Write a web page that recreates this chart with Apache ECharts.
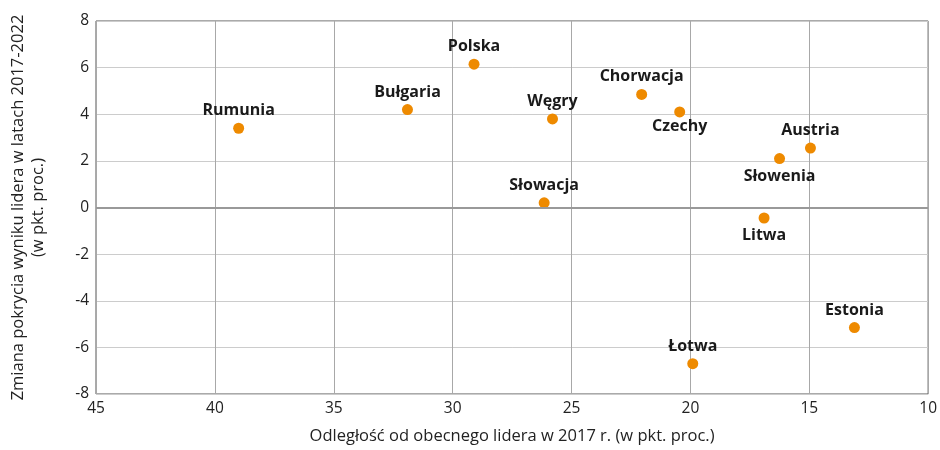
<!DOCTYPE html>
<html>
<head>
<meta charset="utf-8">
<script src="https://cdn.jsdelivr.net/npm/echarts@6/dist/echarts.min.js"></script>
<style>
  html, body { margin: 0; padding: 0; background: #fff; }
  #chart { width: 940px; height: 450px; }
</style>
</head>
<body>
<div id="chart"></div>
<script>
// dane
const countries = ['Rumunia', 'Bułgaria', 'Polska', 'Węgry', 'Słowacja', 'Chorwacja',
  'Czechy', 'Austria', 'Słowenia', 'Litwa', 'Łotwa', 'Estonia']
const distance2017 = [39.0, 31.9, 29.1, 25.8, 26.15, 22.05, 20.45, 14.95, 16.25, 16.9, 19.9, 13.1]
const coverageChange = [3.4, 4.2, 6.15, 3.8, 0.2, 4.85, 4.1, 2.55, 2.1, -0.45, -6.7, -5.15]
const xTicks = { min: 10, max: 45, step: 5 }
const yTicks = { min: -8, max: 8, step: 2 }

const xName = 'Odległość od obecnego lidera w 2017 r. (w pkt. proc.)'
const yName = 'Zmiana pokrycia wyniku lidera w latach 2017-2022\n(w pkt. proc.)'

// etykiety pod punktem
const labelBelow = ['Czechy', 'Słowenia', 'Litwa']

const font = '"Open Sans", sans-serif'

const chart = echarts.init(document.getElementById('chart'))

const points = countries.map((name, i) => ({
  name: name,
  value: [distance2017[i], coverageChange[i]],
  label: {
    position: labelBelow.includes(name) ? 'bottom' : 'top',
    distance: name === 'Czechy' ? 1 : 4
  }
}))

const option = {
  animation: false,
  grid: {
    left: 95,
    right: 9,
    top: 21,
    bottom: 53,
    show: true,
    borderColor: '#555',
    borderWidth: 1
  },
  xAxis: {
    type: 'value',
    inverse: true,
    min: xTicks.min,
    max: xTicks.max,
    interval: xTicks.step,
    name: xName,
    nameLocation: 'middle',
    nameGap: 34,
    nameTextStyle: { fontFamily: font, fontSize: 16.5, color: '#222' },
    axisLine: { show: false },
    axisTick: { show: false },
    axisLabel: { fontFamily: font, fontSize: 15.5, color: '#222', margin: 7 },
    splitLine: { show: true, lineStyle: { color: '#a8a8a8', width: 1 } }
  },
  yAxis: {
    type: 'value',
    min: yTicks.min,
    max: yTicks.max,
    interval: yTicks.step,
    name: yName,
    nameLocation: 'middle',
    nameGap: 48,
    nameRotate: 90,
    nameTextStyle: { fontFamily: font, fontSize: 16.5, color: '#222', lineHeight: 20 },
    axisLine: { show: false },
    axisTick: { show: false },
    axisLabel: { fontFamily: font, fontSize: 15.5, color: '#222', margin: 7 },
    splitLine: { show: true, lineStyle: { color: '#ccc', width: 1 } }
  },
  series: [{
    type: 'scatter',
    data: points,
    symbolSize: 11,
    itemStyle: { color: '#ee8a00', opacity: 1 },
    label: {
      show: true,
      formatter: '{b}',
      fontFamily: font,
      fontWeight: 'bold',
      fontSize: 16,
      color: '#1a1a1a'
    },
    markLine: {
      silent: true,
      symbol: 'none',
      label: { show: false },
      lineStyle: { color: '#999', width: 2, type: 'solid' },
      data: [{ yAxis: 0 }]
    },
    z: 3
  }]
}

chart.setOption(option)
</script>
</body>
</html>
